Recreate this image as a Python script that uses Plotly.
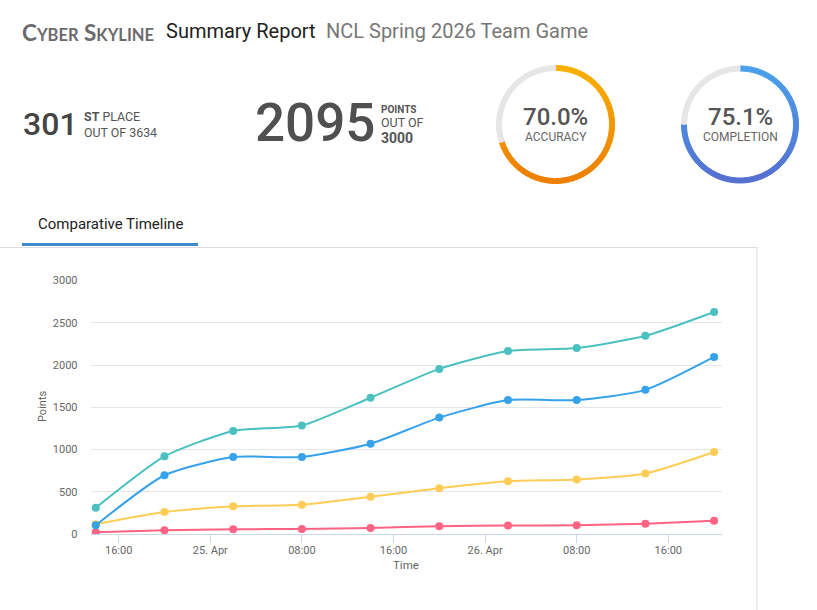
import numpy as np
import pandas as pd
import plotly.graph_objects as go

W, H = 817, 610

# ---------------- data ----------------
times = ["2026-04-24 14:00", "2026-04-24 20:00", "2026-04-25 02:00", "2026-04-25 08:00",
         "2026-04-25 14:00", "2026-04-25 20:00", "2026-04-26 02:00", "2026-04-26 08:00",
         "2026-04-26 14:00", "2026-04-26 20:00"]
first_place = [313, 920, 1221, 1284, 1613, 1954, 2165, 2201, 2345, 2627]
my_team = [106, 697, 912, 912, 1069, 1378, 1585, 1585, 1706, 2095]
average = [118, 262, 330, 348, 442, 544, 626, 646, 717, 971]
last_place = [22, 46, 58, 62, 74, 95, 102, 106, 125, 160]

tick_times = ["2026-04-24 16:00", "2026-04-25 00:00", "2026-04-25 08:00", "2026-04-25 16:00",
              "2026-04-26 00:00", "2026-04-26 08:00", "2026-04-26 16:00"]
tick_labels = ["16:00", "25. Apr", "08:00", "16:00", "26. Apr", "08:00", "16:00"]
y_ticks = [0, 500, 1000, 1500, 2000, 2500, 3000]

place = 301
teams = 3634
points = 2095
max_points = 3000
accuracy = 70.0
completion = 75.1

# ---------------- helpers ----------------
def px(x):
    return x / W


def py(y):
    return 1 - y / H


def hex2rgb(h):
    h = h.lstrip("#")
    return [int(h[i:i + 2], 16) for i in (0, 2, 4)]


def mix(a, b, t):
    ca, cb = hex2rgb(a), hex2rgb(b)
    c = [round(ca[i] + (cb[i] - ca[i]) * t) for i in range(3)]
    return "rgb(%d,%d,%d)" % tuple(c)


def gauge(value, cx, cy, r, c_top, c_bot, n=48):
    seg = value / n
    vals = [seg] * n + [100 - value]
    cols = []
    for i in range(n):
        ang = (i + 0.5) * seg / 100 * 2 * np.pi
        t = (1 - np.cos(ang)) / 2
        cols.append(mix(c_top, c_bot, t))
    cols.append("#e6e6e6")
    return go.Pie(values=vals, sort=False, direction="clockwise", rotation=0,
                  hole=(r - 5) / r, textinfo="none", hoverinfo="skip", showlegend=False,
                  marker=dict(colors=cols, line=dict(color=cols, width=1)),
                  domain=dict(x=[px(cx - r), px(cx + r)], y=[py(cy + r), py(cy - r)]))


fig = go.Figure()

# line series
series = [
    ("Average", average, "#ffcd56"),
    ("Last Place", last_place, "#ff6384"),
    ("First Place", first_place, "#4bc0c0"),
    ("Your Team", my_team, "#36a2eb"),
]
for name, vals, col in series:
    fig.add_trace(go.Scatter(x=pd.to_datetime(times), y=vals, name=name, mode="lines+markers",
                             line=dict(color=col, width=2, shape="spline", smoothing=0.6),
                             marker=dict(color=col, size=8), showlegend=False))

# gauges
fig.add_trace(gauge(accuracy, 555.5, 124.5, 59, "#f9b000", "#ee7e00"))
fig.add_trace(gauge(completion, 740, 124.5, 58.5, "#4aa0ea", "#5470d0"))

# axis range derived from pixel positions of the plot area
t0 = pd.Timestamp(times[0])
x_start = t0 - pd.Timedelta(hours=0.46)
x_end = pd.Timestamp(times[-1]) + pd.Timedelta(hours=0.69)

fig.update_layout(
    width=W, height=H,
    margin=dict(l=0, r=0, t=0, b=0),
    paper_bgcolor="white", plot_bgcolor="white",
    font=dict(family="Roboto", color="#666"),
    xaxis=dict(type="date", domain=[px(90.5), px(722)], range=[x_start, x_end],
               tickvals=pd.to_datetime(tick_times), ticktext=tick_labels,
               ticks="outside", ticklen=8, tickcolor="#ccd6eb", tickwidth=1,
               ticklabelstandoff=-2,
               showline=True, linecolor="#ccd6eb", linewidth=1,
               showgrid=False, zeroline=False, automargin=False,
               tickfont=dict(size=11, color="#666"), fixedrange=True),
    yaxis=dict(domain=[py(534.2), py(280.4)], range=[0, 3000], tickvals=y_ticks,
               showgrid=True, gridcolor="#e6e6e6", gridwidth=1, zeroline=False,
               showline=False, ticks="", ticklabelstandoff=12, automargin=False,
               tickfont=dict(size=11, color="#666"), fixedrange=True),
)

shapes = [
    dict(type="line", xref="paper", yref="paper", x0=px(0), x1=px(757), y0=py(247.5), y1=py(247.5),
         line=dict(color="#dddddd", width=1)),
    dict(type="line", xref="paper", yref="paper", x0=px(757), x1=px(757), y0=py(247.5), y1=py(610),
         line=dict(color="#dddddd", width=1)),
    dict(type="rect", xref="paper", yref="paper", x0=px(22), x1=px(198), y0=py(246), y1=py(243),
         fillcolor="#3d8bcd", line=dict(width=0)),
]
fig.update_layout(shapes=shapes)


def ann(text, x, y, size, color, xanchor="left", family="Roboto", angle=0, weight="normal"):
    return dict(text=text, x=px(x), y=py(y), xref="paper", yref="paper", showarrow=False,
                xanchor=xanchor, yanchor="middle", textangle=angle, align="left",
                font=dict(size=size, color=color, family=family, weight=weight))


anns = [
    ann("<b>C<span style='font-size:16.5px'>YBER</span> S<span style='font-size:16.5px'>KYLINE</span></b>",
        20, 32, 22.5, "#6b6b6b", family="Lato"),
    ann("Summary Report", 164, 31, 20, "#222222"),
    ann("NCL Spring 2026 Team Game", 324, 31, 20, "#777777"),
    ann(str(place), 21, 124, 32, "#444444", weight=500),
    ann("<b>ST</b> PLACE<br>OUT OF %d" % teams, 82, 124, 12.4, "#555555"),
    ann(str(points), 253, 123, 53, "#505050", weight=500),
    ann("<b>POINTS</b>", 379, 109, 10, "#555555"),
    ann("OUT OF", 379, 122.5, 12.5, "#555555"),
    ann("<b>%d</b>" % max_points, 379, 138, 14, "#555555"),
    ann("%.1f%%" % accuracy, 555.5, 117, 24, "#555555", xanchor="center", weight=500),
    ann("ACCURACY", 555.5, 137, 12, "#666666", xanchor="center"),
    ann("%.1f%%" % completion, 740, 117, 24, "#555555", xanchor="center", weight=500),
    ann("COMPLETION", 740, 137, 12, "#666666", xanchor="center"),
    ann("Comparative Timeline", 36, 224, 15, "#222222"),
    ann("Time", 406, 565, 11.5, "#666666", xanchor="center"),
    ann("Points", 42, 407, 11, "#666666", xanchor="center", angle=-90),
]
fig.update_layout(annotations=anns)

fig.write_html("out.html")
